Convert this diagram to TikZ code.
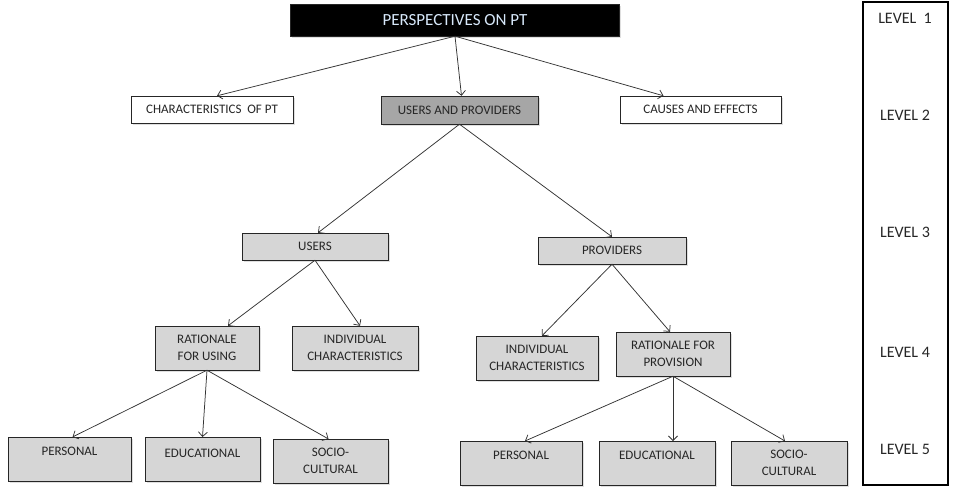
\documentclass[tikz,border=0pt]{standalone}
\usepackage{fontspec}
\setmainfont{Carlito}
\usetikzlibrary{arrows.meta,calc,shadows}
\definecolor{lightbox}{RGB}{214,214,214}
\definecolor{midbox}{RGB}{166,166,166}
\definecolor{titletext}{RGB}{215,232,250}
\begin{document}
\begin{tikzpicture}[x=1pt,y=-1pt,
    font=\fontsize{13}{16.5}\selectfont,
    box/.style={draw=black!85,fill=white,align=center,inner sep=0pt,text=black!85,
      drop shadow={opacity=0.25,shadow xshift=1.5pt,shadow yshift=-1.5pt}},
    gbox/.style={box,fill=lightbox},
    leaf/.style 2 args={gbox,anchor=north,minimum width=#1,text height=#2,text depth=44pt-#2},
    lvl/.style={text=black!85,font=\fontsize{16}{19}\selectfont},
    arr/.style={-{Straight Barb[length=4.5pt,width=9pt]},line width=0.75pt,draw=black!80}]
  \useasboundingbox (0,0) rectangle (954,488);
  \node[box,fill=black,text=titletext,font=\fontsize{17}{19}\selectfont,minimum width=329,minimum height=32] (top) at (455,20) {PERSPECTIVES ON PT};
  \node[box,minimum width=162,minimum height=27] (chr) at (212,109.5) {CHARACTERISTICS\ \ OF PT};
  \node[box,fill=midbox,minimum width=157,minimum height=28] (uap) at (459.5,110) {USERS AND PROVIDERS};
  \node[box,minimum width=161,minimum height=27] (cae) at (700.5,109.5) {CAUSES AND EFFECTS};
  \node[gbox,minimum width=146,minimum height=27] (usr) at (315,246.5) {USERS};
  \node[gbox,minimum width=148,minimum height=27] (prv) at (612,250.5) {PROVIDERS};
  \node[gbox,minimum width=104,minimum height=44] (rfu) at (207,348) {RATIONALE\\FOR USING};
  \node[gbox,minimum width=126,minimum height=44] (icl) at (355,348) {INDIVIDUAL\\CHARACTERISTICS};
  \node[gbox,minimum width=122,minimum height=44] (icr) at (537,358) {INDIVIDUAL\\CHARACTERISTICS};
  \node[gbox,minimum width=114,minimum height=44] (rfp) at (673,354) {RATIONALE FOR\\PROVISION};
  \node[leaf={123}{18pt}] (pl) at (69.5,437) {PERSONAL};
  \node[leaf={115}{20pt}] (el) at (202.5,437) {EDUCATIONAL};
  \node[leaf={115}{34pt}] (sl) at (330.5,439) {SOCIO-\\CULTURAL};
  \node[leaf={122}{18pt}] (pr) at (521,441) {PERSONAL};
  \node[leaf={116}{18pt}] (er) at (657,441) {EDUCATIONAL};
  \node[leaf={116}{34pt}] (sr) at (789,441) {SOCIO-\\CULTURAL};

  \draw[arr] (top.south) -- ($(chr.north)+(5,0)$);
  \draw[arr] (top.south) -- ($(uap.north)+(2,0)$);
  \draw[arr] (top.south) -- ($(cae.north)+(-37,0)$);
  \draw[arr] (uap.south) -- ($(usr.north)+(3,0)$);
  \draw[arr] (uap.south) -- (prv.north);
  \draw[arr] (usr.south) -- ($(rfu.north)+(21,0)$);
  \draw[arr] (usr.south) -- ($(icl.north)+(5,0)$);
  \draw[arr] (prv.south) -- ($(icr.north)+(5,0)$);
  \draw[arr] (prv.south) -- ($(rfp.north)+(-3,0)$);
  \draw[arr] (rfu.south) -- ($(pl.north)+(3,0)$);
  \draw[arr] (rfu.south) -- (el.north);
  \draw[arr] (rfu.south) -- ($(sl.north)+(-2,0)$);
  \draw[arr] (rfp.south) -- ($(pr.north)+(4,0)$);
  \draw[arr] (rfp.south) -- ($(er.north)+(16,0)$);
  \draw[arr] (rfp.south) -- ($(sr.north)+(-4,0)$);

  \draw[line width=2.5pt] (863,2) rectangle (948,485);
  \node[lvl] (lv1) at (905,18) {LEVEL\ \ 1};
  \node[lvl] (lv2) at (905,115) {LEVEL 2};
  \node[lvl] (lv3) at (905,232) {LEVEL 3};
  \node[lvl] (lv4) at (905,352) {LEVEL 4};
  \node[lvl] (lv5) at (905,449) {LEVEL 5};
\end{tikzpicture}
\end{document}
